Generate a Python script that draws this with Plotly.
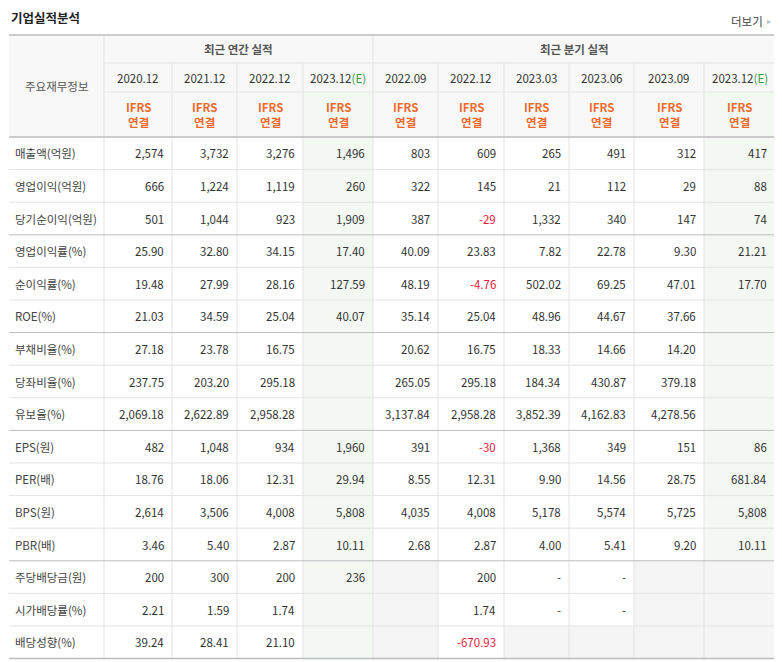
import plotly.graph_objects as go

title = "기업실적분석"
more = "더보기"
groups = ["최근 연간 실적", "최근 분기 실적"]
periods = ["2020.12", "2021.12", "2022.12", "2023.12(E)",
           "2022.09", "2022.12", "2023.03", "2023.06", "2023.09", "2023.12(E)"]
row_labels = ["매출액(억원)", "영업이익(억원)", "당기순이익(억원)", "영업이익률(%)", "순이익률(%)",
              "ROE(%)", "부채비율(%)", "당좌비율(%)", "유보율(%)", "EPS(원)", "PER(배)", "BPS(원)",
              "PBR(배)", "주당배당금(원)", "시가배당률(%)", "배당성향(%)"]
values = [
    ["2,574", "3,732", "3,276", "1,496", "803", "609", "265", "491", "312", "417"],
    ["666", "1,224", "1,119", "260", "322", "145", "21", "112", "29", "88"],
    ["501", "1,044", "923", "1,909", "387", "-29", "1,332", "340", "147", "74"],
    ["25.90", "32.80", "34.15", "17.40", "40.09", "23.83", "7.82", "22.78", "9.30", "21.21"],
    ["19.48", "27.99", "28.16", "127.59", "48.19", "-4.76", "502.02", "69.25", "47.01", "17.70"],
    ["21.03", "34.59", "25.04", "40.07", "35.14", "25.04", "48.96", "44.67", "37.66", ""],
    ["27.18", "23.78", "16.75", "", "20.62", "16.75", "18.33", "14.66", "14.20", ""],
    ["237.75", "203.20", "295.18", "", "265.05", "295.18", "184.34", "430.87", "379.18", ""],
    ["2,069.18", "2,622.89", "2,958.28", "", "3,137.84", "2,958.28", "3,852.39", "4,162.83", "4,278.56", ""],
    ["482", "1,048", "934", "1,960", "391", "-30", "1,368", "349", "151", "86"],
    ["18.76", "18.06", "12.31", "29.94", "8.55", "12.31", "9.90", "14.56", "28.75", "681.84"],
    ["2,614", "3,506", "4,008", "5,808", "4,035", "4,008", "5,178", "5,574", "5,725", "5,808"],
    ["3.46", "5.40", "2.87", "10.11", "2.68", "2.87", "4.00", "5.41", "9.20", "10.11"],
    ["200", "300", "200", "236", None, "200", "-", "-", None, None],
    ["2.21", "1.59", "1.74", "", None, "1.74", "-", "-", None, None],
    ["39.24", "28.41", "21.10", "", None, "-670.93", None, None, None, None],
]

# layout geometry (pixels)
xb = [9, 104, 172, 237, 303, 373, 438, 504, 569, 634, 704, 775]
y_top, y_grp, y_per, y_hdr = 35, 63, 92, 137
rh = 32.6
est_cols = [3, 9]
group_breaks = [3, 6, 9, 13]

FONT = "Noto Sans CJK KR, Noto Sans, sans-serif"
TXT = "#333333"
ORANGE = "#ee6a2c"
GREEN_BG = "#f3f8f3"
HDR_BG = "#f8f8f8"
LINE = "#e3e3e3"
DARK = "#bdbdbd"
FS = 11.5

shapes, ann = [], []
def rect(x0, y0, x1, y1, color):
    shapes.append(dict(type="rect", xref="x", yref="y", x0=x0, x1=x1, y0=y0, y1=y1,
                       fillcolor=color, line=dict(width=0), layer="below"))
def line(x0, y0, x1, y1, color, w=1):
    shapes.append(dict(type="line", xref="x", yref="y", x0=x0, x1=x1, y0=y0, y1=y1,
                       line=dict(color=color, width=w)))
def text(x, y, s, color=TXT, size=FS, anchor="center", bold=False):
    if bold:
        s = "<b>" + s + "</b>"
    ann.append(dict(x=x, y=y, xref="x", yref="y", text=s, showarrow=False, xanchor=anchor,
                    yanchor="middle", font=dict(family=FONT, size=size, color=color)))

y_end = y_hdr + rh * len(row_labels)
rect(xb[0], y_top, xb[-1], y_hdr, HDR_BG)
for c in est_cols:
    rect(xb[c + 1], y_per, xb[c + 2], y_end, GREEN_BG)
for r, row in enumerate(values):
    for c, v in enumerate(row):
        if v is None:
            rect(xb[c + 1], y_hdr + r * rh, xb[c + 2], y_hdr + (r + 1) * rh, "#f5f5f5")

for i, x in enumerate(xb[1:-1], start=1):
    y0 = y_top if i in (1, 5) else y_grp
    line(x, y0, x, y_end, LINE)
line(xb[1], y_grp, xb[-1], y_grp, LINE)
line(xb[1], y_per, xb[-1], y_per, LINE)
for r in range(1, len(row_labels)):
    if r in group_breaks:
        continue
    line(xb[0], y_hdr + r * rh, xb[-1], y_hdr + r * rh, LINE)
for r in group_breaks:
    line(xb[0], y_hdr + r * rh, xb[-1], y_hdr + r * rh, DARK)
line(xb[0], y_top, xb[-1], y_top, DARK, 1.5)
line(xb[0], y_hdr, xb[-1], y_hdr, DARK, 1.5)
line(xb[0], y_end, xb[-1], y_end, DARK, 1.5)

text(9, 17, title, "#222222", 12.5, "left", True)
text(765, 21, more, "#444444", 11.5, "right")
ann.append(dict(x=769, y=20, xref="x", yref="y", text="▸", showarrow=False,
                font=dict(size=8, color="#bbbbbb")))
text((xb[0] + xb[1]) / 2, (y_top + y_hdr) / 2, "주요재무정보", "#555555")
text((xb[1] + xb[5]) / 2, (y_top + y_grp) / 2, groups[0], "#555555", bold=True)
text((xb[5] + xb[-1]) / 2, (y_top + y_grp) / 2, groups[1], "#555555", bold=True)
for c, p in enumerate(periods):
    cx = (xb[c + 1] + xb[c + 2]) / 2
    if p.endswith("(E)"):
        p = p[:-3] + "<span style='color:#3a9a4a'>(E)</span>"
    text(cx, (y_grp + y_per) / 2, p, TXT)
    text(cx, (y_per + y_hdr) / 2, "<b>IFRS<br>연결</b>", ORANGE)
for r, lab in enumerate(row_labels):
    cy = y_hdr + (r + 0.5) * rh
    text(xb[0] + 4, cy, lab, "#444444", FS, "left")
    for c, v in enumerate(values[r]):
        if not v:
            continue
        col = "#e8203a" if v.startswith("-") and len(v) > 1 else TXT
        text(xb[c + 2] - 6, cy, v, col, FS, "right")

fig = go.Figure()
fig.update_layout(width=782, height=662, margin=dict(l=0, r=0, t=0, b=0),
                  paper_bgcolor="white", plot_bgcolor="white",
                  xaxis=dict(range=[8, 790], visible=False, fixedrange=True),
                  yaxis=dict(range=[670, 8], visible=False, fixedrange=True),
                  shapes=shapes, annotations=ann, showlegend=False)
fig.write_html("out.html")
